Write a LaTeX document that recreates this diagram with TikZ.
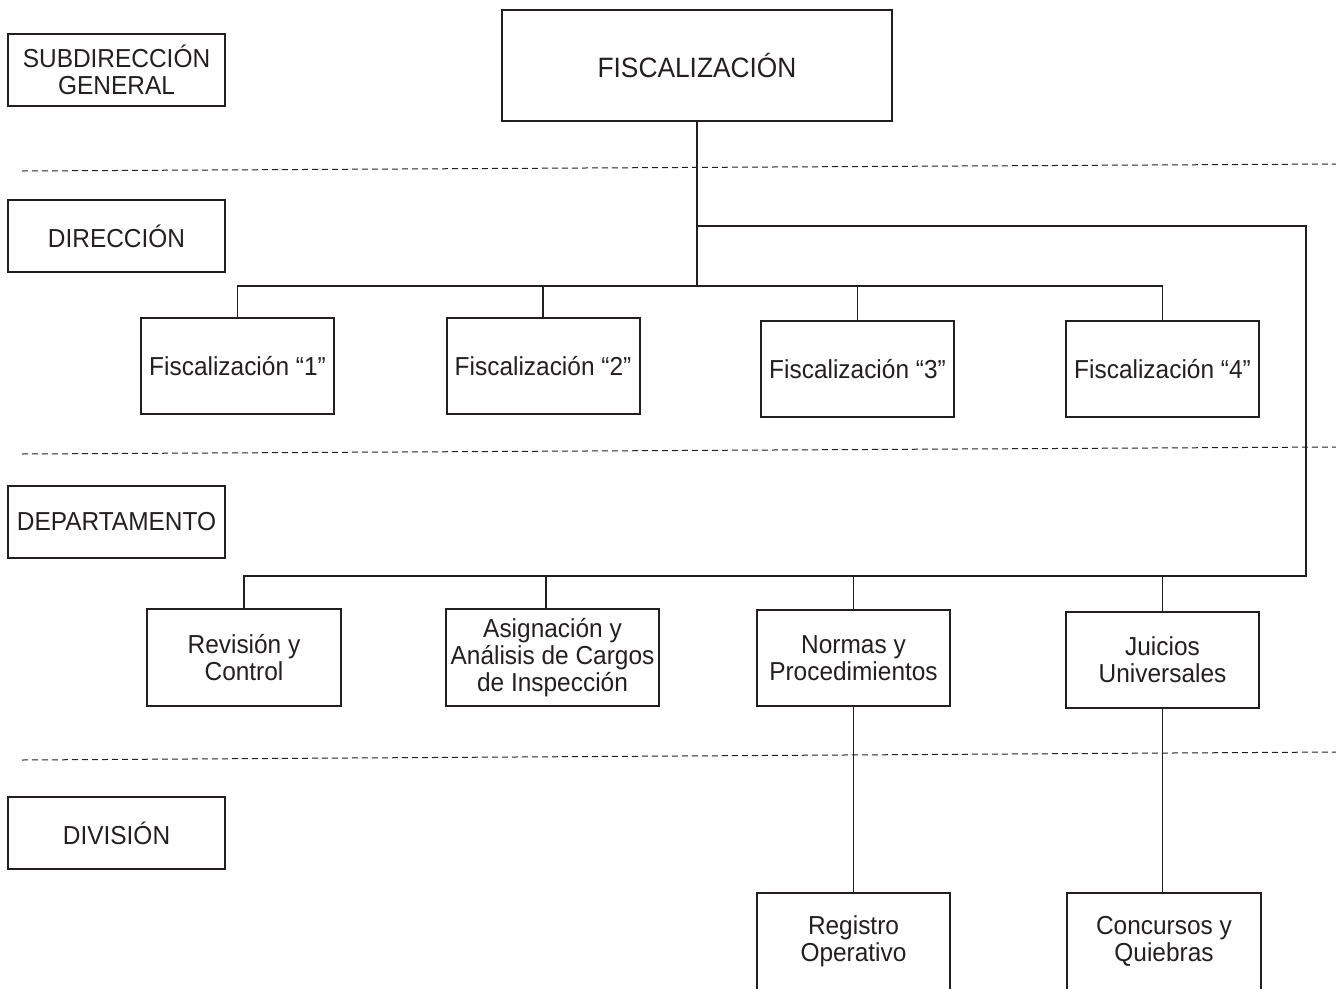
\documentclass[tikz,border=0pt]{standalone}
\usepackage{fontspec}
\setmainfont[FakeStretch=0.94]{Liberation Sans}
\definecolor{ink}{HTML}{231F20}
\begin{document}
\begin{tikzpicture}[x=1pt,y=-1pt,
  box/.style={draw=ink, line width=2pt, rectangle, inner sep=0pt,
    align=center, text=ink, font=\fontsize{26}{27}\selectfont},
  levelbox/.style={box, minimum width=217pt, minimum height=72pt},
  unitbox/.style={box, minimum width=193pt, minimum height=96pt},
  link/.style={draw=ink, line width=1.6pt},
  guide/.style={draw=ink, line width=1pt, dash pattern=on 6pt off 4pt}]
\clip (0,0) rectangle (1336,988);

% level labels on the left
\node[levelbox] (l1) at (116.5,70) {SUBDIRECCIÓN\\GENERAL};
\node[levelbox] (l2) at (116.5,236) {DIRECCIÓN};
\node[levelbox] (l3) at (116.5,522) {DEPARTAMENTO};
\node[levelbox] (l4) at (116.5,833) {DIVISIÓN};

% level separators
\draw[guide] (22,171) -- (1336,164);
\draw[guide] (22,454) -- (1336,447);
\draw[guide] (22,760) -- (1336,752);

% head unit
\node[box, minimum width=390pt, minimum height=111pt,
      font=\fontsize{28}{30}\selectfont] (fisc) at (697,65.5) {FISCALIZACIÓN};

% direcciones
\node[unitbox] (f1) at (237.5,366) {Fiscalización “1”};
\node[unitbox] (f2) at (543,366) {Fiscalización “2”};
\node[unitbox] (f3) at (857.5,369) {Fiscalización “3”};
\node[unitbox] (f4) at (1162.5,369) {Fiscalización “4”};

% departamentos
\node[unitbox, minimum width=194pt, minimum height=97pt] (d1) at (244,657.5) {Revisión y\\Control};
\node[unitbox, minimum width=213pt, minimum height=97pt] (d2) at (552.5,657.5) {Asignación y\\Análisis de Cargos\\de Inspección};
\node[unitbox] (d3) at (853.5,658) {Normas y\\Procedimientos};
\node[unitbox] (d4) at (1162.5,660) {Juicios\\Universales};

% divisiones
\node[unitbox, minimum height=97pt] (v1) at (853.5,941.5) {Registro\\Operativo};
\node[unitbox, minimum width=194pt, minimum height=97pt] (v2) at (1164,941.5) {Concursos y\\Quiebras};

% junctions
\coordinate (j1) at (697,226);
\coordinate (j2) at (697,286);
\coordinate (rc) at (1306,226);
\coordinate (rb) at (1306,576);

% connectors
\draw[link] (fisc.south) -- (j2);
\draw[link] (f1.north) -- (f1.north |- j2) -- (f4.north |- j2) -- (f4.north);
\draw[link] (f2.north |- j2) -- (f2.north);
\draw[link] (f3.north |- j2) -- (f3.north);

\draw[link] (j1) -- (rc) -- (rb) -- (d1.north |- rb) -- (d1.north);
\draw[link] ([xshift=-6.5pt]d2.north |- rb) -- ([xshift=-6.5pt]d2.north);
\draw[link] (d3.north |- rb) -- (d3.north);
\draw[link] (d4.north |- rb) -- (d4.north);

\draw[link] (d3.south) -- (v1.north);
\draw[link] (d4.south) -- (d4.south |- v2.north);
\end{tikzpicture}
\end{document}
